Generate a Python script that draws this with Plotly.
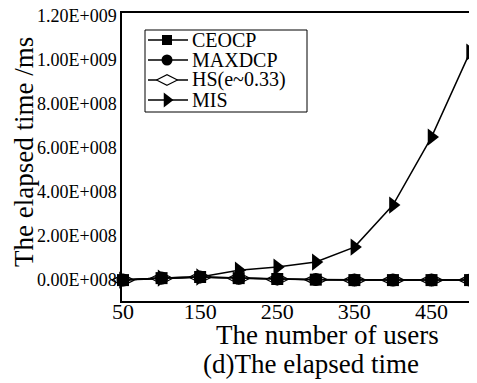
import plotly.graph_objects as go

# ---- data ----
users = [50, 100, 150, 200, 250, 300, 350, 400, 450, 500]
ceocp = [0, 0.9e7, 1.4e7, 0.9e7, 0.5e7, 0.2e7, 0, 0, 0, 0]
maxdcp = [0, 0.9e7, 1.4e7, 0.8e7, 0.5e7, 0.3e7, 0, 0, 0, 0]
hs = [0, 0.8e7, 1.3e7, 0.8e7, 0.4e7, 0.2e7, 0, 0, 0, 0]
mis = [0, 0.9e7, 1.4e7, 4.5e7, 5.9e7, 8.2e7, 1.5e8, 3.41e8, 6.5e8, 1.036e9]

series_names = ["CEOCP", "MAXDCP", "HS(e~0.33)", "MIS"]
y_tickvals = [0, 2e8, 4e8, 6e8, 8e8, 1.0e9, 1.2e9]
y_ticktext = ["0.00E+008", "2.00E+008", "4.00E+008", "6.00E+008", "8.00E+008", "1.00E+009", "1.20E+009"]
x_tickvals = [50, 150, 250, 350, 450]

FONT = "Liberation Serif, Times New Roman, DejaVu Serif, serif"
W, H = 469, 375          # page body adds an 8px margin
L, R, T, B = 114, 0, 5, 82
PW, PH = W - L - R, H - T - B


def px(x):
    return (x - L) / PW


def py(y):
    return (H - B - y) / PH


line = dict(color="black", width=1.5)
symbols = [
    dict(symbol="square", size=12, color="black"),
    dict(symbol="circle", size=13, color="black"),
    dict(symbol="diamond-wide", size=16, color="white", line=dict(color="black", width=1.2)),
    dict(symbol="triangle-right", size=15, color="black"),
]

fig = go.Figure()
for name, vals, mk in zip([series_names[2], series_names[0], series_names[1], series_names[3]],
                          [hs, ceocp, maxdcp, mis],
                          [symbols[2], symbols[0], symbols[1], symbols[3]]):
    fig.add_trace(go.Scatter(x=users, y=vals, name=name, mode="lines+markers",
                             line=line, marker=mk, showlegend=False, cliponaxis=False))

# ---- manual legend (key markers on an overlay axis in paper units) ----
leg_left, leg_right, leg_top, leg_bot = 137, 299, 22, 104
row_y = [32, 52, 72, 92]
shapes = [dict(type="rect", xref="paper", yref="paper",
               x0=px(leg_left), x1=px(leg_right), y0=py(leg_bot), y1=py(leg_top),
               line=dict(color="black", width=1), fillcolor="white", layer="below")]
annotations = []
for i, name in enumerate(series_names):
    shapes.append(dict(type="line", xref="paper", yref="paper",
                       x0=px(140), x1=px(180), y0=py(row_y[i]), y1=py(row_y[i]),
                       line=dict(color="black", width=1.5), layer="below"))
    annotations.append(dict(text=name, xref="paper", yref="paper", x=px(182), y=py(row_y[i]),
                            xanchor="left", yanchor="middle", showarrow=False,
                            font=dict(family=FONT, size=20)))
leg_markers = [
    dict(symbol="square", size=10, color="black"),
    dict(symbol="circle", size=11, color="black"),
    dict(symbol="diamond-wide", size=15, color="white", line=dict(color="black", width=1.2)),
    dict(symbol="triangle-right", size=13, color="black"),
]
for i in range(4):
    fig.add_trace(go.Scatter(x=[px(159)], y=[py(row_y[i])], mode="markers", marker=leg_markers[i],
                             xaxis="x2", yaxis="y2", showlegend=False, hoverinfo="skip",
                             cliponaxis=False))

annotations += [
    dict(text="The number of users", xref="paper", yref="paper", x=px(319), y=py(327),
         xanchor="center", yanchor="middle", showarrow=False, font=dict(family=FONT, size=27)),
    dict(text="(d)The elapsed time", xref="paper", yref="paper", x=px(303), y=py(356),
         xanchor="center", yanchor="middle", showarrow=False, font=dict(family=FONT, size=27)),
    dict(text="The elapsed time /ms", xref="paper", yref="paper", x=px(16), y=py(144),
         xanchor="center", yanchor="middle", showarrow=False, textangle=-90,
         font=dict(family=FONT, size=27)),
]

fig.update_layout(
    width=W, height=H,
    margin=dict(l=L, r=R, t=T, b=B, autoexpand=False),
    paper_bgcolor="white", plot_bgcolor="white",
    font=dict(family=FONT, color="black", size=18),
    showlegend=False,
    xaxis=dict(range=[48.7, 509], tickvals=x_tickvals, showgrid=False, zeroline=False,
               showline=True, linecolor="black", linewidth=1.5, mirror=True, ticks="",
               ticklabelstandoff=-10, tickfont=dict(family=FONT, size=22)),
    yaxis=dict(range=[-9.5e7, 1.2136e9], tickvals=y_tickvals, ticktext=y_ticktext,
               showgrid=False, zeroline=False, showline=True, linecolor="black",
               linewidth=1.5, ticks="", ticklabeloverflow="allow",
               tickfont=dict(family=FONT, size=18)),
    xaxis2=dict(range=[0, 1], overlaying="x", visible=False, fixedrange=True),
    yaxis2=dict(range=[0, 1], overlaying="y", visible=False, fixedrange=True),
    shapes=shapes,
    annotations=annotations,
)

fig.write_html("out.html")
